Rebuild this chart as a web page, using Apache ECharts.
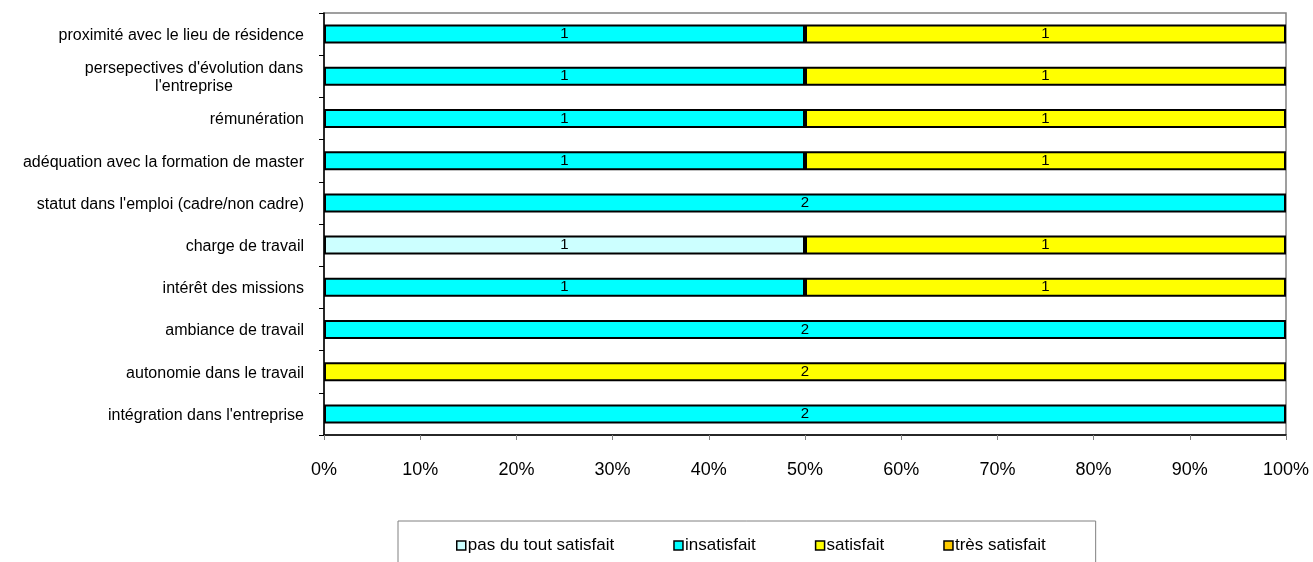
<!DOCTYPE html>
<html><head><meta charset="utf-8">
<script src="https://cdn.jsdelivr.net/npm/echarts@6/dist/echarts.min.js"></script>
<style>html,body{margin:0;padding:0;background:#fff}#c{width:1313px;height:562px}</style>
</head><body><div id="c"></div>
<script>
// categories bottom -> top
const categories = [
  "intégration dans l'entreprise",
  "autonomie dans le travail",
  "ambiance de travail",
  "intérêt des missions",
  "charge de travail",
  "statut dans l'emploi (cadre/non cadre)",
  "adéquation avec la formation de master",
  "rémunération",
  "persepectives d'évolution dans\nl'entreprise",
  "proximité avec le lieu de résidence"
];
const seriesNames = ["pas du tout satisfait", "insatisfait", "satisfait", "très satisfait"];
const pasDuTout   = [0, 0, 0, 0, 1, 0, 0, 0, 0, 0];
const insatisfait = [2, 0, 2, 1, 0, 2, 1, 1, 1, 1];
const satisfait   = [0, 2, 0, 1, 1, 0, 1, 1, 1, 1];
const tresSatisf  = [0, 0, 0, 0, 0, 0, 0, 0, 0, 0];
const xTicks = [0, 10, 20, 30, 40, 50, 60, 70, 80, 90, 100];
const colors = ["#CCFFFF", "#00FFFF", "#FFFF00", "#FFCC00"];

const counts = [pasDuTout, insatisfait, satisfait, tresSatisf];
const totals = categories.map((_, i) => counts.reduce((s, a) => s + a[i], 0));
const FONT = "Liberation Sans, Arial, sans-serif";

const series = counts.map((arr, k) => ({
  name: seriesNames[k],
  type: 'bar',
  stack: 'total',
  barWidth: '45%',
  itemStyle: { color: colors[k], borderColor: '#000', borderWidth: 2 },
  label: {
    show: true, position: 'inside', color: '#000', fontFamily: FONT, fontSize: 15,
    formatter: p => String(arr[p.dataIndex])
  },
  emphasis: { disabled: true },
  data: arr.map((v, i) => v > 0 ? v / totals[i] * 100 : null)
}));

const chart = echarts.init(document.getElementById('c'), null, { renderer: 'canvas' });
chart.setOption({
  animation: false,
  backgroundColor: '#fff',
  grid: { left: 324, right: 27, top: 13, bottom: 127, show: true, borderColor: '#808080', borderWidth: 1.5 },
  xAxis: {
    type: 'value', min: 0, max: 100, interval: 10,
    axisLine: { show: true, lineStyle: { color: '#000', width: 1.5 } },
    axisTick: { show: true, length: 5, lineStyle: { color: '#808080' } },
    splitLine: { show: false },
    axisLabel: { formatter: v => xTicks.includes(v) ? v + '%' : '', color: '#000', fontFamily: FONT, fontSize: 18, margin: 26 }
  },
  yAxis: {
    type: 'category', data: categories,
    axisLine: { show: true, lineStyle: { color: '#000', width: 1.5 } },
    axisTick: { show: true, length: 5, lineStyle: { color: '#000' } },
    axisLabel: {
      color: '#000', fontFamily: FONT, fontSize: 16, margin: 20, lineHeight: 18,
      padding: [3, 0, 0, 0],
      formatter: v => {
        if (v.indexOf('\n') >= 0) {
          const parts = v.split('\n');
          return '{c|' + parts[0] + '}\n{c|' + parts[1] + '}';
        }
        return v;
      },
      rich: { c: { width: 220, align: 'center', fontFamily: FONT, fontSize: 16, lineHeight: 18, color: '#000' } }
    }
  },
  legend: {
    left: 398, top: 521,
    data: seriesNames,
    icon: 'rect', itemWidth: 9, itemHeight: 9, itemGap: 59,
    itemStyle: { borderWidth: 1.5, borderColor: '#000' },
    borderColor: '#808080', borderWidth: 1,
    padding: [16, 50, 20, 58],
    textStyle: { color: '#000', fontFamily: FONT, fontSize: 17, padding: [0, 0, 0, -3] },
    selectedMode: false
  },
  series: series
});
</script></body></html>
